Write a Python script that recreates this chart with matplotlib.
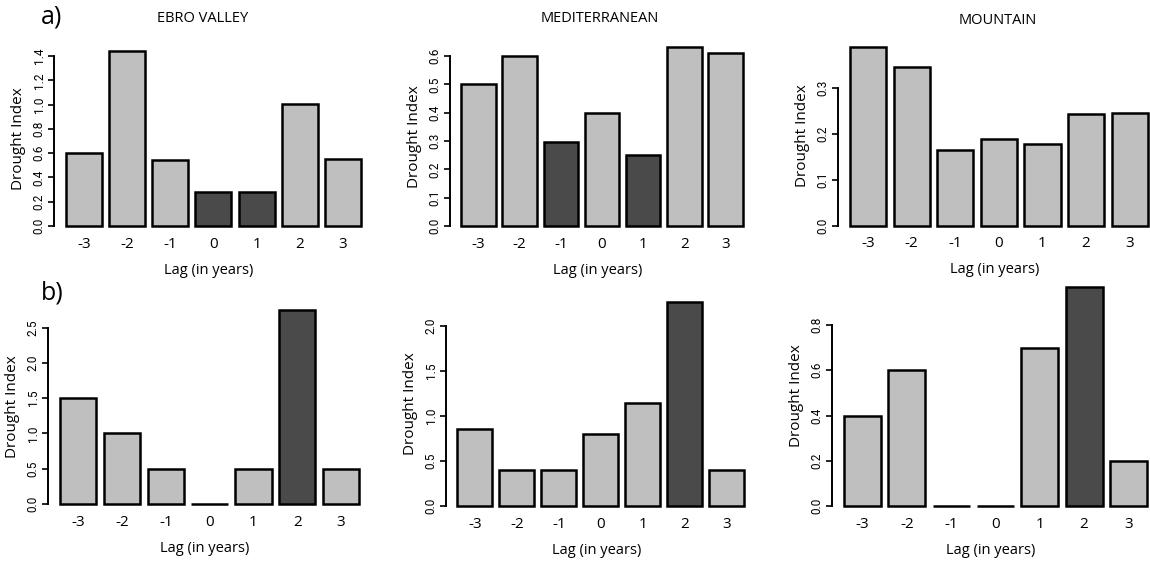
import matplotlib
matplotlib.use("Agg")
import matplotlib.pyplot as plt
from matplotlib import font_manager

# Data
lags = ["-3", "-2", "-1", "0", "1", "2", "3"]

ebro_a = [0.60, 1.44, 0.546, 0.277, 0.277, 1.007, 0.554]
med_a = [0.50, 0.60, 0.298, 0.40, 0.25, 0.632, 0.611]
mount_a = [0.389, 0.347, 0.166, 0.189, 0.178, 0.244, 0.246]

ebro_b = [1.50, 1.00, 0.50, 0.0, 0.50, 2.75, 0.50]
med_b = [0.85, 0.40, 0.40, 0.80, 1.147, 2.27, 0.40]
mount_b = [0.40, 0.60, 0.0, 0.0, 0.70, 0.97, 0.20]

# which bars are dark (significant)
dark_ebro_a = [0, 0, 0, 1, 1, 0, 0]
dark_med_a = [0, 0, 1, 0, 1, 0, 0]
dark_mount_a = [0, 0, 0, 0, 0, 0, 0]
dark_ebro_b = [0, 0, 0, 0, 0, 1, 0]
dark_med_b = [0, 0, 0, 0, 0, 1, 0]
dark_mount_b = [0, 0, 0, 0, 0, 1, 0]

titles = ["EBRO VALLEY", "MEDITERRANEAN", "MOUNTAIN"]

# y ticks per panel
yticks = [
    [0.0, 0.2, 0.4, 0.6, 0.8, 1.0, 1.2, 1.4],
    [0.0, 0.1, 0.2, 0.3, 0.4, 0.5, 0.6],
    [0.0, 0.1, 0.2, 0.3],
    [0.0, 0.5, 1.0, 1.5, 2.0, 2.5],
    [0.0, 0.5, 1.0, 1.5, 2.0],
    [0.0, 0.2, 0.4, 0.6, 0.8],
]

LIGHT = "#bfbfbf"
DARK = "#4a4a4a"

W, H = 1150, 561
fig = plt.figure(figsize=(W / 100, H / 100), dpi=100)

main_font = "Open Sans"
names = {f.name for f in font_manager.fontManager.ttflist}
narrow = ["Liberation Sans Narrow", "DejaVu Sans"] if "Liberation Sans Narrow" in names else ["Roboto", "DejaVu Sans"]

# layout in pixels: y-axis x, bar pitch, baseline y, top-tick y
layout = [
    (54, 43.2, 226, 56),
    (450, 41.2, 226, 56),
    (838, 43.6, 226, 88.3),
    (48, 43.8, 504, 327.7),
    (446, 42.0, 505.7, 326),
    (832, 44.3, 506, 325),
]

panels = [
    (ebro_a, dark_ebro_a), (med_a, dark_med_a), (mount_a, dark_mount_a),
    (ebro_b, dark_ebro_b), (med_b, dark_med_b), (mount_b, dark_mount_b),
]

bw = 1 / 1.2
gap = 0.273
x_lo = -bw / 2 - gap
x_hi = 6 + bw / 2 + 0.06

for k, ((vals, dark), (ax_x, pitch, base, top_px), ticks) in enumerate(zip(panels, layout, yticks)):
    s = (base - top_px) / ticks[-1]  # px per unit
    y_lo = -0.03 * ticks[-1]
    y_hi = max(max(vals), ticks[-1]) * 1.03
    left = ax_x / W
    width = (x_hi - x_lo) * pitch / W
    bottom_px = base - y_lo * s
    bottom = 1 - bottom_px / H
    height = (y_hi - y_lo) * s / H
    ax = fig.add_axes([left, bottom, width, height])

    colors = [DARK if d else LIGHT for d in dark]
    ax.bar(range(len(lags)), vals, width=bw, color=colors, edgecolor="black",
           linewidth=1.8, clip_on=False)

    ax.set_xlim(x_lo, x_hi)
    ax.set_ylim(y_lo, y_hi)
    for sp in ["top", "right", "bottom"]:
        ax.spines[sp].set_visible(False)
    ax.spines["left"].set_bounds(ticks[0], ticks[-1])
    ax.spines["left"].set_linewidth(1.4)
    ax.set_yticks(ticks)
    ax.set_yticklabels([f"{t:.1f}" for t in ticks], rotation=90, va="center",
                       family=narrow, fontsize=8.5)
    ax.tick_params(axis="y", length=4, width=1.2, pad=2)
    ax.set_xticks(range(len(lags)))
    ax.set_xticklabels(lags, family=main_font, fontsize=11)
    ax.tick_params(axis="x", length=0, pad=4)
    ax.set_xlabel("Lag (in years)", family=main_font, fontsize=10.5, labelpad=8)
    ax.set_ylabel("Drought Index", family=main_font, fontsize=11, labelpad=5)
    ax.patch.set_visible(False)

# column titles
for t, xc, yc in zip(titles, [203, 600, 998], [18, 18, 20]):
    fig.text(xc / W, 1 - yc / H, t, family=main_font, fontsize=10.5,
             ha="center", va="center")

fig.text(52 / W, 1 - 17 / H, "a)", family=main_font, fontsize=18, ha="center", va="center")
fig.text(52 / W, 1 - 293 / H, "b)", family=main_font, fontsize=18, ha="center", va="center")

fig.savefig("out.png", dpi=100)
